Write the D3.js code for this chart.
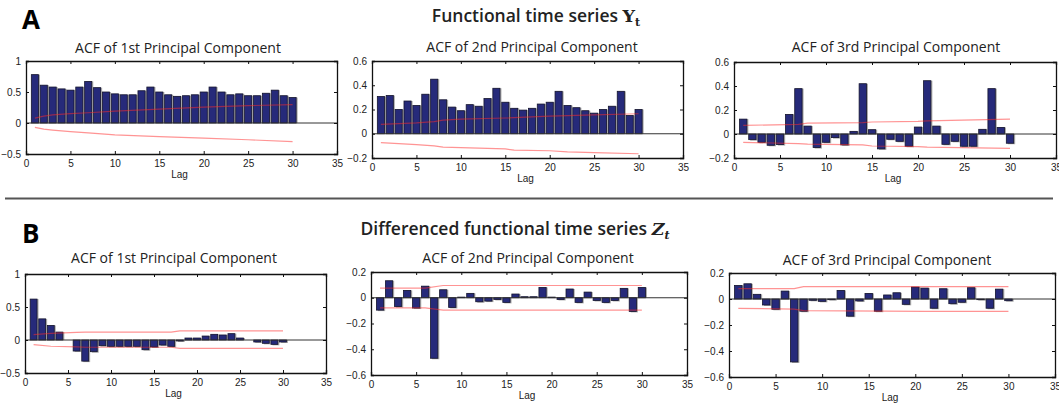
<!DOCTYPE html>
<html>
<head>
<meta charset="utf-8">
<script src="https://cdn.jsdelivr.net/npm/d3@7"></script>
<style>
  body { margin: 0; background: #fff; }
  svg { display: block; }
</style>
</head>
<body>
<svg id="chart"></svg>
<script>
// lags 1..30
const lags = d3.range(1, 31);
const xTicks = [0, 5, 10, 15, 20, 25, 30, 35];

// panel A - functional time series Y_t
const acfA1 = [0.78, 0.61, 0.58, 0.55, 0.53, 0.58, 0.67, 0.57, 0.50, 0.47,
               0.455, 0.455, 0.52, 0.58, 0.50, 0.455, 0.43, 0.44, 0.455, 0.50,
               0.58, 0.50, 0.455, 0.47, 0.44, 0.44, 0.48, 0.53, 0.44, 0.41];
const acfA2 = [0.307, 0.315, 0.20, 0.27, 0.233, 0.326, 0.45, 0.28, 0.22, 0.19,
               0.24, 0.227, 0.29, 0.375, 0.26, 0.21, 0.195, 0.21, 0.245, 0.26,
               0.35, 0.233, 0.215, 0.19, 0.17, 0.20, 0.227, 0.35, 0.15, 0.20];
const acfA3 = [0.124, -0.047, -0.069, -0.094, -0.088, 0.163, 0.378, 0.066, -0.113, -0.069,
               -0.03, -0.091, 0.022, 0.419, 0.036, -0.124, -0.044, -0.061, -0.102, 0.058,
               0.444, 0.066, -0.086, -0.061, -0.102, -0.102, 0.039, 0.378, 0.055, -0.077];

// panel B - differenced series Z_t
const acfB1 = [0.62, 0.32, 0.22, 0.12, 0.0, -0.167, -0.32, -0.177, -0.086, -0.096,
               -0.096, -0.096, -0.096, -0.147, -0.106, -0.076, -0.096, -0.015, 0.03, 0.03,
               0.06, 0.086, 0.076, 0.096, 0.03, 0.0, -0.03, -0.05, -0.066, -0.03];
const acfB2 = [-0.096, 0.132, -0.068, 0.057, -0.08, 0.09, -0.47, 0.062, -0.075, 0.005,
               0.034, -0.031, -0.026, -0.013, -0.036, 0.029, 0.008, 0.008, 0.08, 0.005,
               -0.013, 0.068, -0.036, 0.044, -0.021, -0.036, -0.021, 0.073, -0.106, 0.08];
const acfB3 = [0.104, 0.117, 0.036, -0.046, -0.079, 0.061, -0.484, -0.094, -0.01, -0.018,
               -0.005, 0.066, -0.132, -0.015, 0.043, -0.094, 0.031, 0.048, -0.041, 0.092,
               0.084, -0.071, 0.079, -0.036, -0.025, 0.087, -0.005, -0.071, 0.076, -0.013];

// confidence bounds, [lag, value]
const upA1 = [[1,.08],[2,.11],[3,.13],[5,.15],[7,.165],[10,.19],[15,.225],[20,.255],[25,.28],[30,.295]];
const loA1 = [[1,-.07],[2,-.10],[3,-.115],[5,-.14],[7,-.16],[10,-.19],[15,-.22],[20,-.245],[25,-.27],[30,-.30]];
const upA2 = [[1,.077],[5,.09],[7,.10],[8,.112],[10,.12],[15,.13],[20,.145],[25,.155],[30,.165]];
const loA2 = [[1,-.074],[5,-.09],[7,-.10],[8,-.11],[10,-.115],[15,-.125],[16,-.135],[20,-.14],[22,-.15],[25,-.155],[30,-.165]];
const upA3 = [[1,.072],[7,.08],[8,.09],[14,.094],[15,.10],[20,.105],[21,.11],[30,.124]];
const loA3 = [[1,-.069],[7,-.08],[8,-.085],[14,-.09],[15,-.10],[20,-.105],[21,-.11],[30,-.119]];
const upB1 = [[1,.08],[3,.10],[6,.115],[7,.12],[17,.12],[18,.137],[30,.137]];
const loB1 = [[1,-.07],[3,-.095],[6,-.105],[7,-.11],[17,-.11],[18,-.127],[30,-.127]];
const upB2 = [[1,.075],[6,.075],[8,.095],[30,.095]];
const loB2 = [[1,-.078],[6,-.078],[8,-.096],[30,-.096]];
const upB3 = [[1,.08],[7,.08],[8,.095],[30,.095]];
const loB3 = [[1,-.072],[7,-.078],[8,-.09],[21,-.095],[30,-.095]];

const yTicksTop = [-0.5, 0, 0.5, 1];
const yTicksSmall = [-0.2, 0, 0.2, 0.4, 0.6];
const yTicksNeg = [-0.6, -0.4, -0.2, 0, 0.2];

const titles = ["ACF of 1st Principal Component", "ACF of 2nd Principal Component", "ACF of 3rd Principal Component"];

const W = 1059, H = 410;
const svg = d3.select("#chart").attr("width", W).attr("height", H)
    .attr("viewBox", [0, 0, W, H]);

const panels = [
    {x0: 26, x1: 337, y0: 61, y1: 154, dom: [-0.5, 1], ticks: yTicksTop, acf: acfA1, up: upA1, lo: loA1, title: titles[0], tx: 178, ty: 53},
    {x0: 372, x1: 683, y0: 61, y1: 158, dom: [-0.2, 0.6], ticks: yTicksSmall, acf: acfA2, up: upA2, lo: loA2, title: titles[1], tx: 532, ty: 52},
    {x0: 734, x1: 1056, y0: 62, y1: 158, dom: [-0.2, 0.6], ticks: yTicksSmall, acf: acfA3, up: upA3, lo: loA3, title: titles[2], tx: 896, ty: 52},
    {x0: 25, x1: 326, y0: 274, y1: 373, dom: [-0.5, 1], ticks: yTicksTop, acf: acfB1, up: upB1, lo: loB1, title: titles[0], tx: 174, ty: 263},
    {x0: 371, x1: 687, y0: 272, y1: 375, dom: [-0.6, 0.2], ticks: yTicksNeg, acf: acfB2, up: upB2, lo: loB2, title: titles[1], tx: 528, ty: 263},
    {x0: 729, x1: 1055, y0: 273, y1: 377, dom: [-0.6, 0.2], ticks: yTicksNeg, acf: acfB3, up: upB3, lo: loB3, title: titles[2], tx: 887, ty: 265}
];

const titleFont = "'Open Sans', 'Noto Sans', sans-serif";
const tickFont = "'Liberation Sans', Arial, sans-serif";

// section headings
svg.append("text").attr("x", 22).attr("y", 29)
    .attr("font-family", titleFont).attr("font-weight", 700).attr("font-size", 26)
    .text("A");
svg.append("text").attr("x", 22).attr("y", 243)
    .attr("font-family", titleFont).attr("font-weight", 700).attr("font-size", 26)
    .text("B");

const hA = svg.append("text").attr("x", 536).attr("y", 22).attr("text-anchor", "middle")
    .attr("font-family", titleFont).attr("font-weight", 600).attr("font-size", 17.5)
    .attr("fill", "#222");
hA.append("tspan").text("Functional time series ");
hA.append("tspan").attr("font-family", "'DejaVu Serif', serif").attr("font-weight", 700).text("Y");
hA.append("tspan").attr("font-family", "'DejaVu Serif', serif").attr("font-weight", 700)
    .attr("font-size", 11).attr("dy", 4).text("t");

const hB = svg.append("text").attr("x", 515).attr("y", 235).attr("text-anchor", "middle")
    .attr("font-family", titleFont).attr("font-weight", 600).attr("font-size", 17.5)
    .attr("fill", "#222");
hB.append("tspan").text("Differenced functional time series ");
hB.append("tspan").attr("font-family", "'DejaVu Serif', serif").attr("font-style", "italic").attr("font-weight", 700).text("Z");
hB.append("tspan").attr("font-family", "'DejaVu Serif', serif").attr("font-style", "italic").attr("font-weight", 700)
    .attr("font-size", 11).attr("dy", 4).text("t");

// separator
svg.append("line").attr("x1", 5).attr("x2", 1053).attr("y1", 198.5).attr("y2", 198.5)
    .attr("stroke", "#555").attr("stroke-width", 2);

panels.forEach(p => {
    const x = d3.scaleLinear().domain([0, 35]).range([p.x0, p.x1]);
    const y = d3.scaleLinear().domain(p.dom).range([p.y1, p.y0]);
    const g = svg.append("g");
    const bw = (x(1) - x(0)) * 0.8;

    // shadow behind bars
    g.selectAll("rect.shadow").data(p.acf).join("rect")
        .attr("class", "shadow")
        .attr("x", (d, i) => x(lags[i]) - bw / 2 + 1.5)
        .attr("y", d => Math.min(y(d), y(0)))
        .attr("width", bw)
        .attr("height", d => Math.abs(y(d) - y(0)) + (d < 0 ? 1 : 0))
        .attr("fill", "#aaa");

    g.selectAll("rect.bar").data(p.acf).join("rect")
        .attr("class", "bar")
        .attr("x", (d, i) => x(lags[i]) - bw / 2)
        .attr("y", d => Math.min(y(d), y(0)))
        .attr("width", bw)
        .attr("height", d => Math.abs(y(d) - y(0)))
        .attr("fill", "#262a7a")
        .attr("stroke", "#15152e")
        .attr("stroke-width", 0.8);

    // baseline
    g.append("line").attr("x1", p.x0).attr("x2", p.x1)
        .attr("y1", y(0)).attr("y2", y(0))
        .attr("stroke", "#333").attr("stroke-width", 1);

    // bounds
    const line = d3.line().x(d => x(d[0])).y(d => y(d[1]));
    [p.up, p.lo].forEach(b => {
        g.append("path").attr("d", line(b))
            .attr("fill", "none").attr("stroke", "#ff2a2a")
            .attr("stroke-opacity", 0.5).attr("stroke-width", 1.2);
    });

    // axes: ticks inward on all four sides
    const ax = g.append("g").attr("transform", `translate(0,${p.y1})`)
        .call(d3.axisBottom(x).tickValues(xTicks).tickSize(-3).tickPadding(6));
    const axTop = g.append("g").attr("transform", `translate(0,${p.y0})`)
        .call(d3.axisTop(x).tickValues(xTicks).tickSize(-3).tickFormat(""));
    const ay = g.append("g").attr("transform", `translate(${p.x0},0)`)
        .call(d3.axisLeft(y).tickValues(p.ticks).tickSize(-3).tickPadding(5).tickFormat(d3.format("")));
    const ayR = g.append("g").attr("transform", `translate(${p.x1},0)`)
        .call(d3.axisRight(y).tickValues(p.ticks).tickSize(-3).tickFormat(""));
    [ax, axTop, ay, ayR].forEach(a => {
        a.select(".domain").attr("stroke", "#111").attr("stroke-width", 1.3);
        a.selectAll(".tick line").attr("stroke", "#111");
        a.selectAll("text").attr("font-family", tickFont).attr("font-size", 10).attr("fill", "#222");
    });

    g.append("text").attr("x", (p.x0 + p.x1) / 2 - 2).attr("y", p.y1 + 24)
        .attr("text-anchor", "middle")
        .attr("font-family", tickFont).attr("font-size", 10).attr("fill", "#222")
        .text("Lag");

    g.append("text").attr("x", p.tx).attr("y", p.ty).attr("text-anchor", "middle")
        .attr("font-family", titleFont).attr("font-size", 14).attr("fill", "#222")
        .text(p.title);
});
</script>
</body>
</html>
